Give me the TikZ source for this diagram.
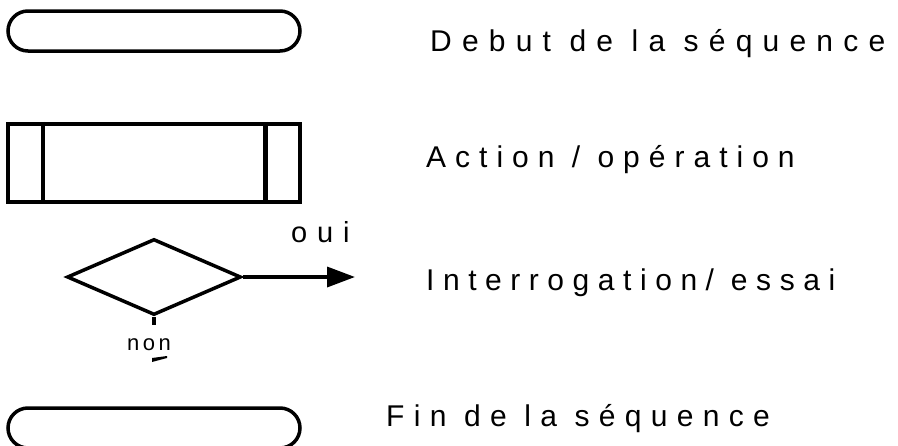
\documentclass[tikz,border=0pt]{standalone}
\usepackage{fontspec}
\setmainfont{Liberation Sans}
\newfontfamily\trackedfont{Liberation Sans}
\usepackage{tikz}
\usetikzlibrary{shapes.geometric,arrows.meta,positioning}
\tikzset{
  terminal/.style={rectangle,rounded corners=20pt,minimum width=292pt,minimum height=40pt,
    draw=black,line width=3.5pt,inner sep=0pt},
  process/.style={rectangle,minimum width=292pt,minimum height=78pt,
    draw=black,line width=4.5pt,inner sep=0pt},
  decision/.style={diamond,minimum width=174pt,minimum height=76pt,
    draw=black,line width=3.5pt,inner sep=0pt},
  legend/.style={anchor=base west,inner sep=0pt,
    font=\trackedfont\addfontfeature{LetterSpace=#1}\fontsize{30}{32}\selectfont},
  legend/.default=34,
  branch/.style={anchor=base west,inner sep=0pt,
    font=\trackedfont\addfontfeature{LetterSpace=34}\fontsize{29}{31}\selectfont},
  smallbranch/.style={anchor=base west,inner sep=0pt,
    font=\trackedfont\addfontfeature{LetterSpace=16}\fontsize{22}{24}\selectfont},
  flowarrow/.style={-{Triangle[length=28pt,width=20pt]},line width=3.5pt},
}
\begin{document}
\begin{tikzpicture}[x=1pt,y=-1pt]
  \useasboundingbox (0,0) rectangle (898,445);
  \clip (0,0) rectangle (898,445);
  % symbols
  \node[terminal] (debut) at (154,31) {};
  \node[process] (action) at (154,163) {};
  \draw[line width=4.5pt] ([xshift=37pt]action.north west) -- ([xshift=37pt]action.south west);
  \draw[line width=4.5pt] ([xshift=-37pt]action.north east) -- ([xshift=-37pt]action.south east);
  \node[decision] (test) at (154,277) {};
  \coordinate (ouiend) at (355,277);
  \coordinate (nonend) at (154,325);
  \draw[flowarrow] (test.east) -- (ouiend);
  \draw[line width=4.5pt] (test.south) -- (nonend);
  \fill (152,362) -- (152,358) -- (167,356) -- (167,358) -- cycle;
  \node[terminal] (fin) at (154,428) {};
  % labels
  \node[legend] (debuttxt) at (430,51) {Debut de la séquence};
  \node[legend=30] (actiontxt) at (426,167) {Action / opération};
  \node[legend=28.5] (testtxt) at (426,290) {Interrogation/ essai};
  \node[legend=31] (fintxt) at (386,426) {Fin de la séquence};
  \node[branch] (oui) at (291,242) {oui};
  \node[smallbranch] (non) at (127,350) {non};
\end{tikzpicture}
\end{document}
